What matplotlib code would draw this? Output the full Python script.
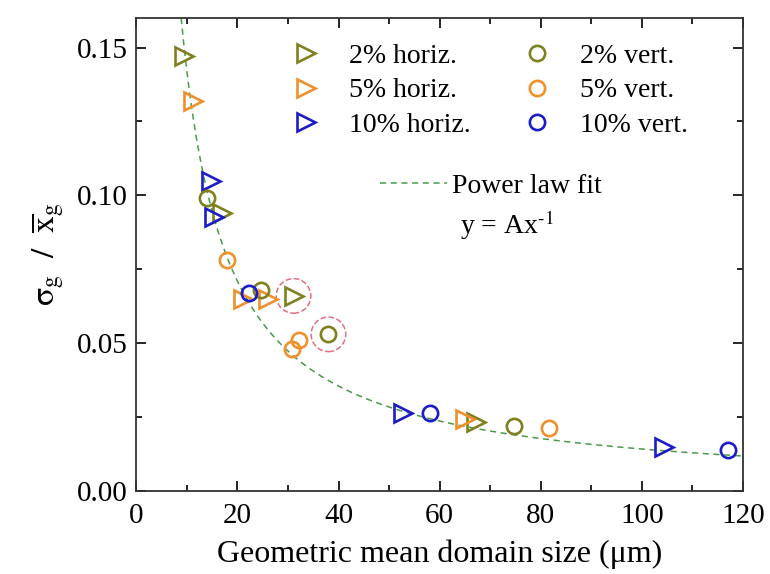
import numpy as np
import matplotlib
matplotlib.use("Agg")
import matplotlib.pyplot as plt

plt.rcParams['font.family'] = ['Liberation Serif', 'DejaVu Serif']
plt.rcParams['mathtext.fontset'] = 'stix'

# Data
h2_x = [9.5, 17.0, 31.1, 67.1]
h2_y = [0.147, 0.094, 0.066, 0.0233]
h5_x = [11.3, 21.2, 26.1, 65.1]
h5_y = [0.132, 0.065, 0.065, 0.0243]
h10_x = [14.7, 15.3, 52.7, 104.4]
h10_y = [0.105, 0.0926, 0.0263, 0.0149]
v2_x = [14.0, 24.6, 38.0, 74.7]
v2_y = [0.099, 0.068, 0.053, 0.022]
v5_x = [18.0, 30.7, 32.1, 81.6]
v5_y = [0.078, 0.048, 0.051, 0.0213]
v10_x = [22.2, 58.0, 117.0]
v10_y = [0.067, 0.0263, 0.0139]
highlight_x = [31.1, 38.0]
highlight_y = [0.066, 0.053]
fit_A = 1.42

c_olive = '#7f8020'
c_orange = '#f0902c'
c_blue = '#1c1cc8'
c_green = '#4a9a4a'
c_red = '#e07080'

fig = plt.figure(figsize=(7.7, 5.74), dpi=100)
ax = fig.add_axes([0.177, 0.1446, 0.788, 0.824])

xf = np.linspace(fit_A / 0.16, 120, 400)
fit_line, = ax.plot(xf, fit_A / xf, '--', color=c_green, lw=1.1, dashes=(4, 3), zorder=1)

ms_t = 13
ms_c = 11
mew = 1.9
series = [
    (h2_x, h2_y, '>', c_olive, '2% horiz.', ms_t),
    (h5_x, h5_y, '>', c_orange, '5% horiz.', ms_t),
    (h10_x, h10_y, '>', c_blue, '10% horiz.', ms_t),
    (v2_x, v2_y, 'o', c_olive, '2% vert.', ms_c),
    (v5_x, v5_y, 'o', c_orange, '5% vert.', ms_c),
    (v10_x, v10_y, 'o', c_blue, '10% vert.', ms_c),
]
handles = []
for x, y, m, c, lab, ms in series:
    h, = ax.plot(x, y, linestyle='none', marker=m, markersize=ms, markerfacecolor='none',
                 markeredgecolor=c, markeredgewidth=mew, label=lab, zorder=3)
    handles.append(h)

ax.scatter(highlight_x, highlight_y, s=620, facecolors='none', edgecolors=c_red,
           linestyles='--', linewidths=1.1, zorder=2)

leg1 = ax.legend(handles=handles, ncol=2, loc='upper left', bbox_to_anchor=(0.252, 0.946),
                 frameon=False, fontsize=20, handletextpad=0.97, columnspacing=1.76,
                 labelspacing=0.32, handlelength=1.2, borderpad=0, borderaxespad=0)
ax.add_artist(leg1)
leg2 = ax.legend(handles=[fit_line], labels=['Power law fit'], loc='center left',
                 bbox_to_anchor=(0.402, 0.645), frameon=False, fontsize=20,
                 handlelength=2.4, handletextpad=0.2, borderpad=0, borderaxespad=0)
ax.text(0.534, 0.561, r'y = Ax$^{\text{-1}}$', transform=ax.transAxes, fontsize=20,
        ha='left', va='center')

ax.set_xlim(0, 120)
ax.set_ylim(0, 0.16)
ax.set_xticks(np.arange(0, 121, 20))
ax.set_xticks(np.arange(0, 121, 10), minor=True)
ax.set_yticks([0.0, 0.05, 0.10, 0.15])
ax.set_yticks(np.arange(0, 0.16, 0.025), minor=True)
ax.set_yticklabels(['0.00', '0.05', '0.10', '0.15'])
ax.tick_params(which='both', direction='in', top=True, right=True, labelsize=21, width=1.2)
ax.tick_params(which='major', length=7)
ax.tick_params(which='minor', length=4)
ax.tick_params(axis='x', pad=9)
ax.tick_params(axis='y', pad=6)
for s in ax.spines.values():
    s.set_linewidth(1.3)
    s.set_color('#333333')

ax.set_xlabel('Geometric mean domain size (\u03bcm)', fontsize=23, labelpad=7)
ax.set_ylabel(r'$\mathrm{\sigma_g\ \ /\ \ \overline{x}_g}$', fontsize=24, labelpad=8)

fig.savefig('out.png', dpi=100)
